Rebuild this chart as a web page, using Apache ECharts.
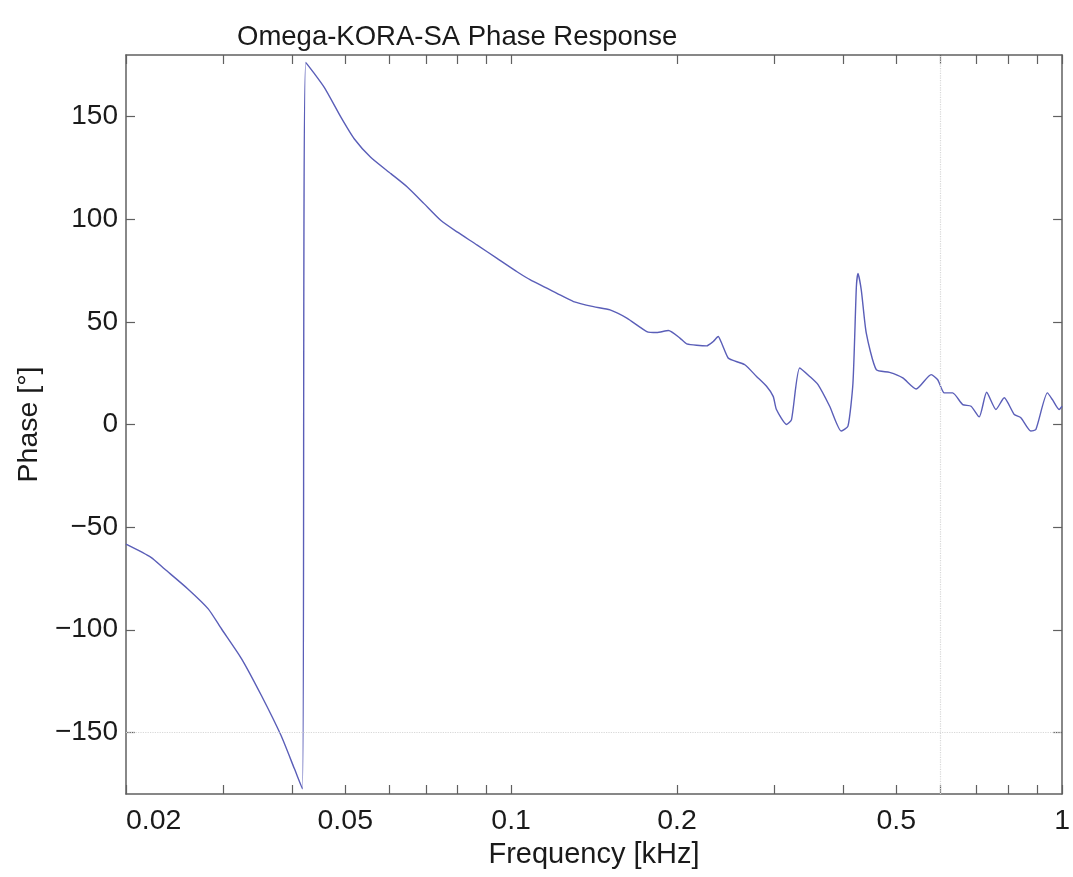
<!DOCTYPE html>
<html>
<head>
<meta charset="utf-8">
<script src="https://cdn.jsdelivr.net/npm/echarts@6/dist/echarts.min.js"></script>
<style>
  html, body { margin: 0; padding: 0; background: #fff; }
  #phase { width: 1073px; height: 877px; }
</style>
</head>
<body>
<div id="phase"></div>
<script>
// frequency in kHz, phase in degrees
const freq = [
  0.02, 0.0222, 0.0235, 0.0259, 0.0282, 0.0298, 0.0324, 0.0352, 0.0382, 0.0404, 0.0418,
  0.0424, 0.0458, 0.0491, 0.0519, 0.0556, 0.0605, 0.0648, 0.0695, 0.0745, 0.0798,
  0.0868, 0.0943, 0.1025, 0.1084, 0.1211, 0.1298, 0.1411, 0.1512, 0.1622, 0.1763,
  0.1838, 0.193, 0.2025, 0.2083, 0.2264, 0.2327, 0.2376, 0.241, 0.2477, 0.2529,
  0.2656, 0.2789, 0.2908, 0.299, 0.3031, 0.3162, 0.3228, 0.334, 0.3483, 0.3606,
  0.3786, 0.3975, 0.4087, 0.4173, 0.4233, 0.4261, 0.4321, 0.4412, 0.46, 0.4862,
  0.5139, 0.5435, 0.5786, 0.5947, 0.6113, 0.6329, 0.66, 0.6836, 0.7073, 0.7296,
  0.7585, 0.7852, 0.8188, 0.8418, 0.8777, 0.8963, 0.9406, 0.9605, 0.9876, 1.0
];
const phase = [
  -58.3, -64.7, -70.4, -80.1, -89.8, -99.5, -114, -131.9, -151.3, -167.5, -177.5,
  176.4, 164.2, 149.7, 139.2, 130.2, 122.2, 115.7, 107.6, 99.5, 93.8,
  87.4, 80.9, 74.4, 70.4, 63.9, 59.9, 57.4, 55.8, 51.8, 45.3,
  44.8, 45.8, 42.1, 39.3, 38.3, 40.4, 42.9, 39.7, 32.4, 31.2,
  29.1, 23.4, 18.6, 13.7, 7.3, 0, 2.4, 27.5, 23.4, 19.4,
  8.9, -3.2, -0.8, 20.2, 67.1, 73.6, 65.5, 44.5, 26.7, 25.4,
  22.7, 17.3, 24.3, 21.8, 15.4, 15.4, 9.7, 8.9, 3.7, 15.7,
  7.3, 13.0, 4.9, 3.3, -3.2, -2.4, 15.4, 12.1, 7.3, 8.9
];

const xLabels = [0.02, 0.05, 0.1, 0.2, 0.5, 1];
const xTicks = [0.02, 0.03, 0.04, 0.05, 0.06, 0.07, 0.08, 0.09, 0.1,
  0.2, 0.3, 0.4, 0.5, 0.6, 0.7, 0.8, 0.9, 1];
const yTicks = [-150, -100, -50, 0, 50, 100, 150];

let chartDom = document.getElementById('phase');
let myChart = echarts.init(chartDom);
let option;

let font = 'Liberation Sans, Arial, sans-serif';
let axisLine = { show: true, onZero: false, lineStyle: { color: '#606060', width: 1.5 } };
let tickStyle = { color: '#606060', width: 1.2 };

let points = [];
for (let i = 0; i < freq.length; i++) {
  points.push([freq[i], phase[i]]);
}

option = {
  animation: false,
  backgroundColor: '#fff',
  title: {
    text: 'Omega-KORA-SA Phase Response',
    left: 232,
    top: 18,
    textStyle: { fontFamily: font, fontSize: 27.5, fontWeight: 'normal', color: '#1a1a1a' }
  },
  grid: { left: 126, right: 10, top: 55, bottom: 83 },
  xAxis: [
    {
      type: 'log',
      min: 0.02,
      max: 1,
      name: 'Frequency [kHz]',
      nameLocation: 'middle',
      nameGap: 45,
      nameTextStyle: { fontFamily: font, fontSize: 29, color: '#1a1a1a' },
      axisLine: axisLine,
      axisTick: { show: true, inside: true, length: 9, customValues: xTicks, lineStyle: tickStyle },
      axisLabel: {
        customValues: xLabels,
        fontFamily: font, fontSize: 28.5, color: '#1a1a1a', margin: 13,
        alignMinLabel: 'left',
        formatter: function (v) { return String(Math.round(v * 100) / 100); }
      },
      splitLine: { show: false },
      minorTick: { show: false }
    },
    {
      type: 'log',
      position: 'top',
      min: 0.02,
      max: 1,
      axisLine: axisLine,
      axisTick: { show: true, inside: true, length: 9, customValues: xTicks, lineStyle: tickStyle },
      axisLabel: { show: false },
      splitLine: { show: false }
    }
  ],
  yAxis: [
    {
      type: 'value',
      min: -180,
      max: 180,
      name: 'Phase [°]',
      nameLocation: 'middle',
      nameGap: 82,
      nameTextStyle: { fontFamily: font, fontSize: 28.5, color: '#1a1a1a' },
      axisLine: axisLine,
      axisTick: { show: true, inside: true, length: 9, customValues: yTicks, lineStyle: tickStyle },
      axisLabel: {
        customValues: yTicks,
        fontFamily: font, fontSize: 28, color: '#1a1a1a', margin: 8,
        formatter: function (v) { return v < 0 ? '\u2212' + Math.abs(v) : String(v); }
      },
      splitLine: { show: false }
    },
    {
      type: 'value',
      position: 'right',
      min: -180,
      max: 180,
      axisLine: axisLine,
      axisTick: { show: true, inside: true, length: 9, customValues: yTicks, lineStyle: tickStyle },
      axisLabel: { show: false },
      splitLine: { show: false }
    }
  ],
  series: [
    {
      name: 'Phase',
      type: 'line',
      data: points,
      showSymbol: false,
      smooth: 0.2,
      lineStyle: { color: '#5a5eb8', width: 1.4 },
      markLine: {
        silent: true,
        symbol: 'none',
        label: { show: false },
        lineStyle: { color: '#d8d8d8', type: 'dotted', width: 1.2 },
        data: [{ yAxis: -150 }, { xAxis: 0.6 }]
      }
    }
  ]
};

option && myChart.setOption(option);
</script>
</body>
</html>
